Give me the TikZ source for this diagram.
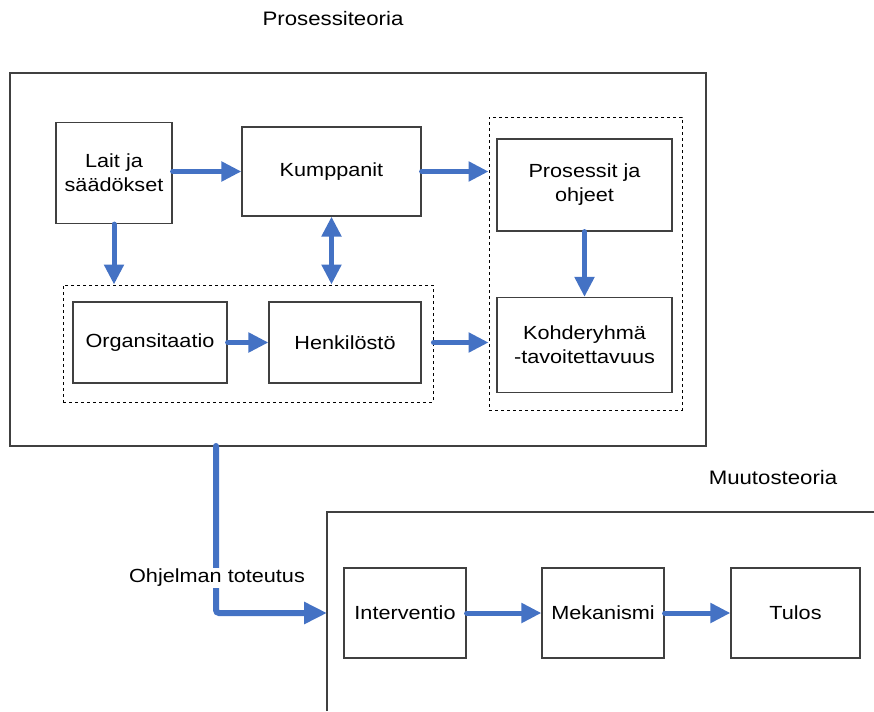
\documentclass[tikz,border=0pt]{standalone}
\usepackage{fontspec}
\setmainfont{Liberation Sans}[FakeStretch=1.14]
\usetikzlibrary{arrows.meta,calc}
\definecolor{arrowblue}{RGB}{68,114,196}
\definecolor{boxgray}{RGB}{64,64,64}
\begin{document}
\begin{tikzpicture}[x=1pt,y=-1pt,
  every node/.style={font=\fontsize{19}{24}\selectfont},
  box/.style={draw=boxgray,line width=1.2pt,inner sep=0pt,align=center},
  dbox/.style={draw=black,dashed,line width=0.9pt,inner sep=0pt},
  frame/.style={draw=boxgray,line width=1.2pt},
  flow/.style={draw=arrowblue,line width=5pt,line cap=round,
    -{Triangle[length=20pt,width=19pt]}},
  bflow/.style={draw=arrowblue,line width=5pt,
    {Triangle[length=20pt,width=19pt]}-{Triangle[length=20pt,width=19pt]}},
  bigflow/.style={draw=arrowblue,line width=6pt,line cap=round,rounded corners=3pt,
    -{Triangle[length=23pt,width=21pt]}},
  title/.style={font=\fontsize{19.5}{24}\selectfont}
]
\useasboundingbox (0,0) rectangle (874,711);
% titles
\node[title] (pt) at (333,19) {Prosessiteoria};
\node[title] (mt) at (773,478) {Muutosteoria};
% outer process frame
\node[box,minimum width=696pt,minimum height=373pt] (outer) at (358,259.5) {};
% dashed groups
\node[dbox,minimum width=193pt,minimum height=293pt] (dr) at (585.5,263.5) {};
\node[dbox,minimum width=370pt,minimum height=117pt] (dl) at (248,343.5) {};
% boxes
\node[box,minimum width=116pt,minimum height=101pt] (laki) at (114,173) {Lait ja\\säädökset};
\node[box,minimum width=179pt,minimum height=89pt] (kump) at (331.5,171.5) {Kumppanit};
\node[box,minimum width=175pt,minimum height=92pt] (pros) at (584.5,185) {Prosessit ja\\ohjeet};
\node[box,minimum width=175pt,minimum height=95pt] (kohde) at (584.5,345) {Kohderyhmä\\-tavoitettavuus};
\node[box,minimum width=154pt,minimum height=81pt] (org) at (150,342.5) {Organsitaatio};
\node[box,minimum width=152pt,minimum height=81pt] (henk) at (345,342.5) {Henkilöstö};
% change frame
\coordinate (mbl) at (327,711);
\coordinate (mtl) at (327,512);
\coordinate (mtr) at (874,512);
\draw[frame] (mbl) -- (mtl) -- (mtr);
\node[box,minimum width=122pt,minimum height=90pt] (interv) at (405,613) {Interventio};
\node[box,minimum width=122pt,minimum height=90pt] (mek) at (603,613) {Mekanismi};
\node[box,minimum width=129pt,minimum height=90pt] (tulos) at (795.5,613) {Tulos};
% arrows
\draw[flow] (laki.east |- kump) -- (kump.west);
\draw[flow] (kump.east) -- (kump.east -| dr.west);
\draw[flow] (laki.south) -- (laki.south |- dl.north);
\draw[bflow] (kump.south) -- (kump.south |- dl.north);
\draw[flow] (pros.south) -- (kohde.north);
\draw[flow] (org.east) -- (henk.west);
\draw[flow] (henk -| dl.east) -- (henk -| dr.west);
\draw[flow] (interv.east) -- (mek.west);
\draw[flow] (mek.east) -- (tulos.west);
% implementation arrow
\coordinate (impl) at (216,446);
\draw[bigflow] (impl) |- (mtl |- interv);
\node[fill=white,inner sep=1pt] (lbl) at (217,578) {Ohjelman toteutus};
\end{tikzpicture}
\end{document}
